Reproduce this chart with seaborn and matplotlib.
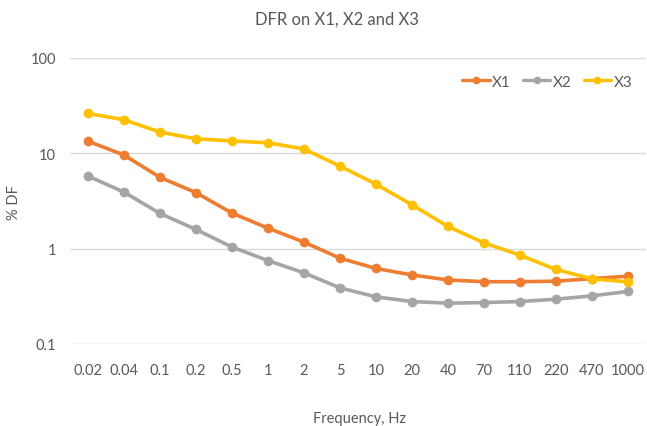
import matplotlib
matplotlib.use('Agg')
import matplotlib.pyplot as plt
from matplotlib.lines import Line2D
import numpy as np
import pandas as pd
import seaborn as sns

# data
freqs = ['0.02', '0.04', '0.1', '0.2', '0.5', '1', '2', '5', '10', '20',
         '40', '70', '110', '220', '470', '1000']
x1 = [13.4, 9.6, 5.6, 3.87, 2.36, 1.64, 1.17, 0.795, 0.62, 0.53,
      0.47, 0.45, 0.45, 0.456, 0.485, 0.515]
x2 = [5.77, 3.92, 2.34, 1.59, 1.04, 0.75, 0.557, 0.388, 0.312, 0.279,
      0.268, 0.272, 0.279, 0.295, 0.32, 0.356]
x3 = [26.2, 22.5, 16.7, 14.2, 13.5, 12.9, 11.1, 7.34, 4.75, 2.88,
      1.71, 1.15, 0.855, 0.605, 0.482, 0.449]

series = {'X1': x1, 'X2': x2, 'X3': x3}
colors = {'X1': '#ED7D31', 'X2': '#A5A5A5', 'X3': '#FFC000'}

df = pd.DataFrame([
    {'pos': i, 'freq': f, 'series': name, 'value': v}
    for name, vals in series.items()
    for i, (f, v) in enumerate(zip(freqs, vals))
])

sns.set_style('white')
plt.rcParams['font.family'] = ['Lato', 'DejaVu Sans']
text_color = '#595959'

fig = plt.figure(figsize=(6.47, 4.27), dpi=100)
ax = fig.add_axes([70 / 647, (427 - 345) / 427, 576 / 647, 286 / 427])

sns.lineplot(data=df, x='pos', y='value', hue='series', palette=colors,
             marker='o', markersize=7, markeredgewidth=0, linewidth=2.6,
             sort=False, legend=False, ax=ax)

ax.set_yscale('log')
ax.set_ylim(0.1, 100)
ax.set_yticks([0.1, 1, 10, 100])
ax.set_yticklabels(['0.1', '1', '10', '100'])
ax.yaxis.set_minor_locator(matplotlib.ticker.NullLocator())
ax.set_xlim(-0.5, len(freqs) - 0.5)
ax.set_xticks(np.arange(len(freqs)))
ax.set_xticklabels(freqs)

ax.grid(axis='y', color='#D9D9D9', linewidth=1)
ax.grid(axis='x', visible=False)
for s in ax.spines.values():
    s.set_visible(False)
ax.tick_params(axis='both', length=0, labelsize=10.5, labelcolor=text_color)
ax.tick_params(axis='x', pad=14)
ax.tick_params(axis='y', pad=10)

ax.set_xlabel('')
ax.set_ylabel('')
fig.text(14 / 647, 1 - 203 / 427, '% DF', rotation=90, ha='center', va='center',
         fontsize=10.5, color=text_color)
fig.text(360 / 647, 1 - 419 / 427, 'Frequency, Hz', ha='center', va='center',
         fontsize=10.5, color=text_color)
fig.text(337 / 647, 1 - 20 / 427, 'DFR on X1, X2 and X3', ha='center', va='center',
         fontsize=12, color=text_color)

handles = [Line2D([], [], color=colors[n], marker='o', markersize=5.5,
                  markeredgewidth=0, linewidth=2.4) for n in series]
ax.legend(handles, list(series), loc='upper right', bbox_to_anchor=(1.0, 0.99), ncol=3,
          frameon=False, fontsize=11, handlelength=1.8, handletextpad=0.15,
          columnspacing=0.8, labelcolor=text_color)

fig.savefig('out.png', dpi=100)
